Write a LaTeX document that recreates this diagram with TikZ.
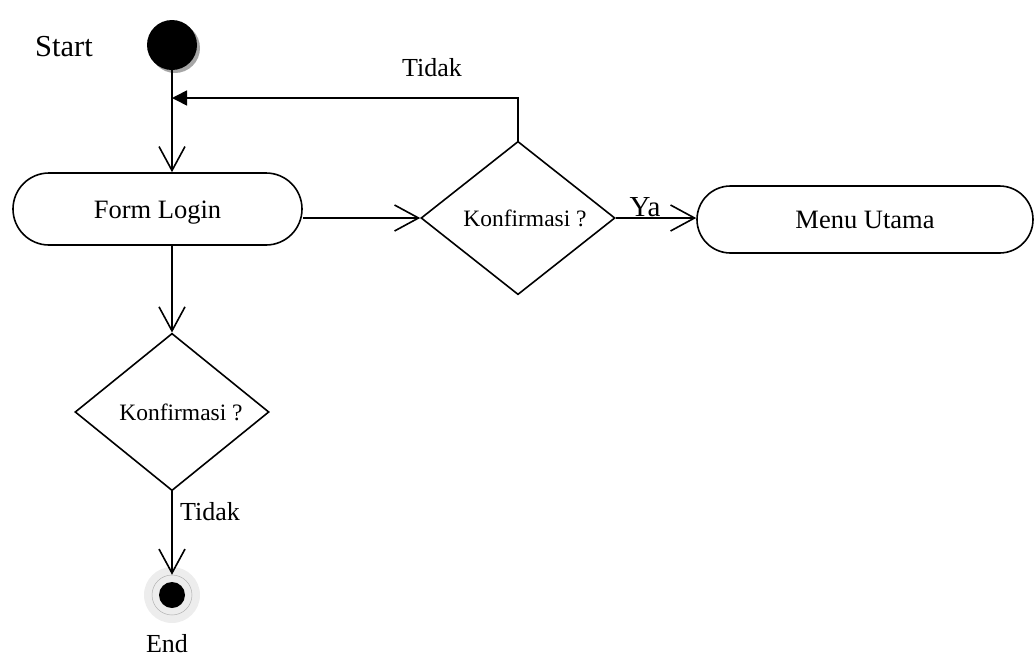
\documentclass[tikz,border=0pt]{standalone}
\usepackage{fontspec}
\setmainfont{Liberation Serif}
\usetikzlibrary{arrows.meta,shapes.misc,shapes.geometric,shadows}
\begin{document}
\begin{tikzpicture}[x=1pt,y=-1pt,
  flow/.style={line width=1.6pt},
  openhead/.style={-{Straight Barb[length=24pt,width=26pt]}},
  solidhead/.style={-{Triangle[length=15pt,width=15pt]}},
  activity/.style={rounded rectangle, draw, line width=1.6pt, inner sep=0pt,
    text height=18pt, text depth=0pt,
    font=\fontsize{26.5}{30}\selectfont},
  decision/.style={diamond, draw, line width=1.6pt, inner sep=0pt,
    minimum width=194pt, minimum height=143pt,
    text height=16pt, text depth=0pt,
    font=\fontsize{23.5}{27}\selectfont},
  lbl/.style={inner sep=0pt, font=\fontsize{26}{30}\selectfont},
]
\useasboundingbox (0,0) rectangle (1034,659);

% initial state
\node[circle, fill=black, minimum size=50pt, inner sep=0pt,
  drop shadow={shadow xshift=3pt, shadow yshift=-3pt, fill=black!35, opacity=1}]
  (start) at (172,45) {};
\node[lbl, font=\fontsize{30.5}{34}\selectfont] (startlbl) at (64,47) {Start};

% activities and decisions
\node[activity, minimum width=289pt, minimum height=72pt] (login) at (157.5,209) {Form Login};
\node[decision] (cek1) at (518,218) {\hspace*{14pt}Konfirmasi ?};
\node[activity, minimum width=336pt, minimum height=67pt] (menu) at (865,219.5) {Menu Utama};
\node[decision] (cek2) at (172,412) {\hspace*{18pt}Konfirmasi ?};

% final state
\node[circle, fill=black!7, minimum size=56pt, inner sep=0pt] (endhalo) at (172,595) {};
\node[circle, draw=black!30, line width=0.5pt, minimum size=40pt, inner sep=0pt] (endring) at (172,595) {};
\node[circle, fill=black, minimum size=26pt, inner sep=0pt] (end) at (172,595) {};
\node[lbl] (endlbl) at (167,644) {End};

% labels on connectors
\node[lbl] (tidak1) at (432,68) {Tidak};
\node[lbl, font=\fontsize{29}{32}\selectfont] (ya) at (645,207) {Ya};
\node[lbl] (tidak2) at (210,512) {Tidak};

% connectors
\coordinate (looprow) at (0,98);
\draw[flow, openhead] (start.south) -- (start.south |- login.north);
\draw[flow, openhead] (login.east |- cek1.west) -- (cek1.west);
\draw[flow, openhead] (cek1.east) -- (cek1.east -| menu.west);
\draw[flow, solidhead] (cek1.north) |- (start.south |- looprow);
\draw[flow, openhead] (cek2.north |- login.south) -- (cek2.north);
\draw[flow, openhead] (cek2.south) -- (endring.north);
\end{tikzpicture}
\end{document}
